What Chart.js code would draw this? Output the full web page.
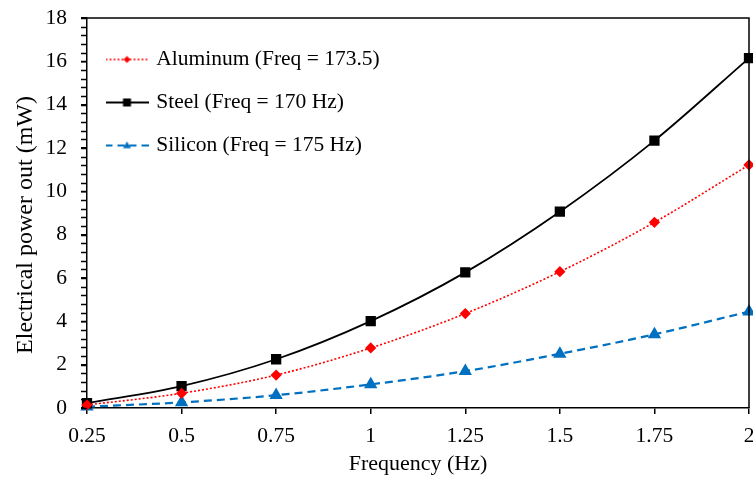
<!DOCTYPE html>
<html>
<head>
<meta charset="utf-8">
<script src="https://cdn.jsdelivr.net/npm/chart.js@4.4.1/dist/chart.umd.min.js"></script>
<style>
  html, body { margin: 0; padding: 0; background: #fff; overflow: hidden; }
  canvas { display: block; }
</style>
</head>
<body>
<canvas id="chart" width="753" height="477"></canvas>
<script>
var frequency = ['0.25', '0.5', '0.75', '1', '1.25', '1.5', '1.75', '2'];
var aluminum = [0.14, 0.68, 1.52, 2.77, 4.36, 6.29, 8.57, 11.22];
var steel = [0.22, 1.01, 2.25, 4.01, 6.26, 9.06, 12.34, 16.15];
var silicon = [0.06, 0.26, 0.59, 1.09, 1.70, 2.50, 3.40, 4.45];

var RED = '#FF0000';
var BLUE = '#0070C0';
var MINOR_STEP = 0.4;

Chart.defaults.font.family = "'Liberation Serif', 'Times New Roman', serif";
Chart.defaults.color = '#000';

// small line + marker picture for the legend
function legendIcon(color, dash, width, style, radius){
	var c = document.createElement('canvas');
	c.width = 43;
	c.height = 14;
	var g = c.getContext('2d');
	g.strokeStyle = color;
	g.lineWidth = width;
	g.setLineDash(dash);
	g.beginPath();
	g.moveTo(0, 7);
	g.lineTo(43, 7);
	g.stroke();
	g.setLineDash([]);
	g.fillStyle = color;
	g.beginPath();
	if (style === 'rect') {
		g.rect(21.5 - radius, 7 - radius, radius * 2, radius * 2);
	} else if (style === 'rectRot') {
		g.moveTo(21.5 - radius, 7);
		g.lineTo(21.5, 7 - radius);
		g.lineTo(21.5 + radius, 7);
		g.lineTo(21.5, 7 + radius);
		g.closePath();
	} else {
		g.moveTo(21.5, 7 - radius);
		g.lineTo(21.5 + radius, 7 + radius * 0.7);
		g.lineTo(21.5 - radius, 7 + radius * 0.7);
		g.closePath();
	}
	g.fill();
	return c;
}

var icons = [
	legendIcon(RED, [2, 2], 1.5, 'rectRot', 3.5),
	legendIcon('#000', [], 1.8, 'rect', 4),
	legendIcon(BLUE, [7, 5], 2, 'triangle', 4)
];

// top/right frame and the minor ticks of the y axis
var frame = {
	id: 'frame',
	afterDraw: function(chart){
		var a = chart.chartArea;
		var y = chart.scales.y;
		var ctx = chart.ctx;
		ctx.save();
		ctx.strokeStyle = '#000';
		ctx.lineWidth = 1.5;
		ctx.beginPath();
		ctx.moveTo(a.left, a.top);
		ctx.lineTo(a.right, a.top);
		ctx.lineTo(a.right, a.bottom);
		for (var i = 0; i * MINOR_STEP <= y.max + 1e-9; i++) {
			var py = Math.round(y.getPixelForValue(i * MINOR_STEP)) + 0.5;
			ctx.moveTo(a.left - 6, py);
			ctx.lineTo(a.left, py);
		}
		ctx.stroke();
		ctx.restore();
	}
};

var datos = {
	type: 'line',
	data: {
		labels: frequency,
		datasets: [{
			label: 'Aluminum (Freq = 173.5)',
			data: aluminum,
			borderColor: RED,
			backgroundColor: RED,
			borderWidth: 1.6,
			borderDash: [2, 2],
			pointStyle: 'rectRot',
			pointRadius: 4.5,
			cubicInterpolationMode: 'monotone',
			clip: false
		}, {
			label: 'Steel (Freq = 170 Hz)',
			data: steel,
			borderColor: '#000',
			backgroundColor: '#000',
			borderWidth: 1.8,
			pointStyle: 'rect',
			pointRadius: 6,
			cubicInterpolationMode: 'monotone',
			clip: false
		}, {
			label: 'Silicon (Freq = 175 Hz)',
			data: silicon,
			borderColor: BLUE,
			backgroundColor: BLUE,
			borderWidth: 2.2,
			borderDash: [8, 5],
			pointStyle: 'triangle',
			pointRadius: 5.5,
			cubicInterpolationMode: 'monotone',
			clip: false
		}]
	},
	options: {
		responsive: false,
		animation: false,
		layout: { autoPadding: false, padding: 0 },
		plugins: {
			tooltip: { enabled: false },
			legend: {
				position: 'chartArea',
				align: 'start',
				title: { display: true, text: ' ', font: { size: 1 }, padding: 13 },
				labels: {
					usePointStyle: true,
					pointStyleWidth: 37,
					padding: 21.5,
					font: { size: 21.5 },
					generateLabels: function(chart){
						return chart.data.datasets.map(function(ds, i){
							return {
								text: ds.label,
								pointStyle: icons[i],
								datasetIndex: i,
								fontColor: '#000',
								lineWidth: 0
							};
						});
					}
				}
			}
		},
		scales: {
			x: {
				offset: false,
				grid: { drawOnChartArea: false, tickLength: 6, color: '#000', lineWidth: 1.5 },
				border: { color: '#000', width: 1.5 },
				ticks: { font: { size: 21.5 }, padding: 9, maxRotation: 0 },
				title: { display: true, text: 'Frequency (Hz)', font: { size: 22 }, padding: { top: 0, bottom: 0 } },
				afterFit: function(scale){
					scale.height = 69;
					scale.paddingRight = 4;
				}
			},
			y: {
				min: 0,
				max: 18,
				grid: { drawOnChartArea: false, tickLength: 6, color: '#000', lineWidth: 1.5 },
				border: { color: '#000', width: 1.5 },
				ticks: { stepSize: 2, font: { size: 21.5 }, padding: 14 },
				title: {
					display: true,
					text: 'Electrical power out (mW)\u00a0\u00a0\u00a0\u00a0',
					font: { size: 24 },
					padding: { top: 11, bottom: 0 }
				},
				afterFit: function(scale){
					scale.width = 87;
					scale.paddingTop = 18;
				}
			}
		}
	},
	plugins: [frame]
};

var canvas = document.getElementById('chart').getContext('2d');
window.line = new Chart(canvas, datos);
</script>
</body>
</html>
